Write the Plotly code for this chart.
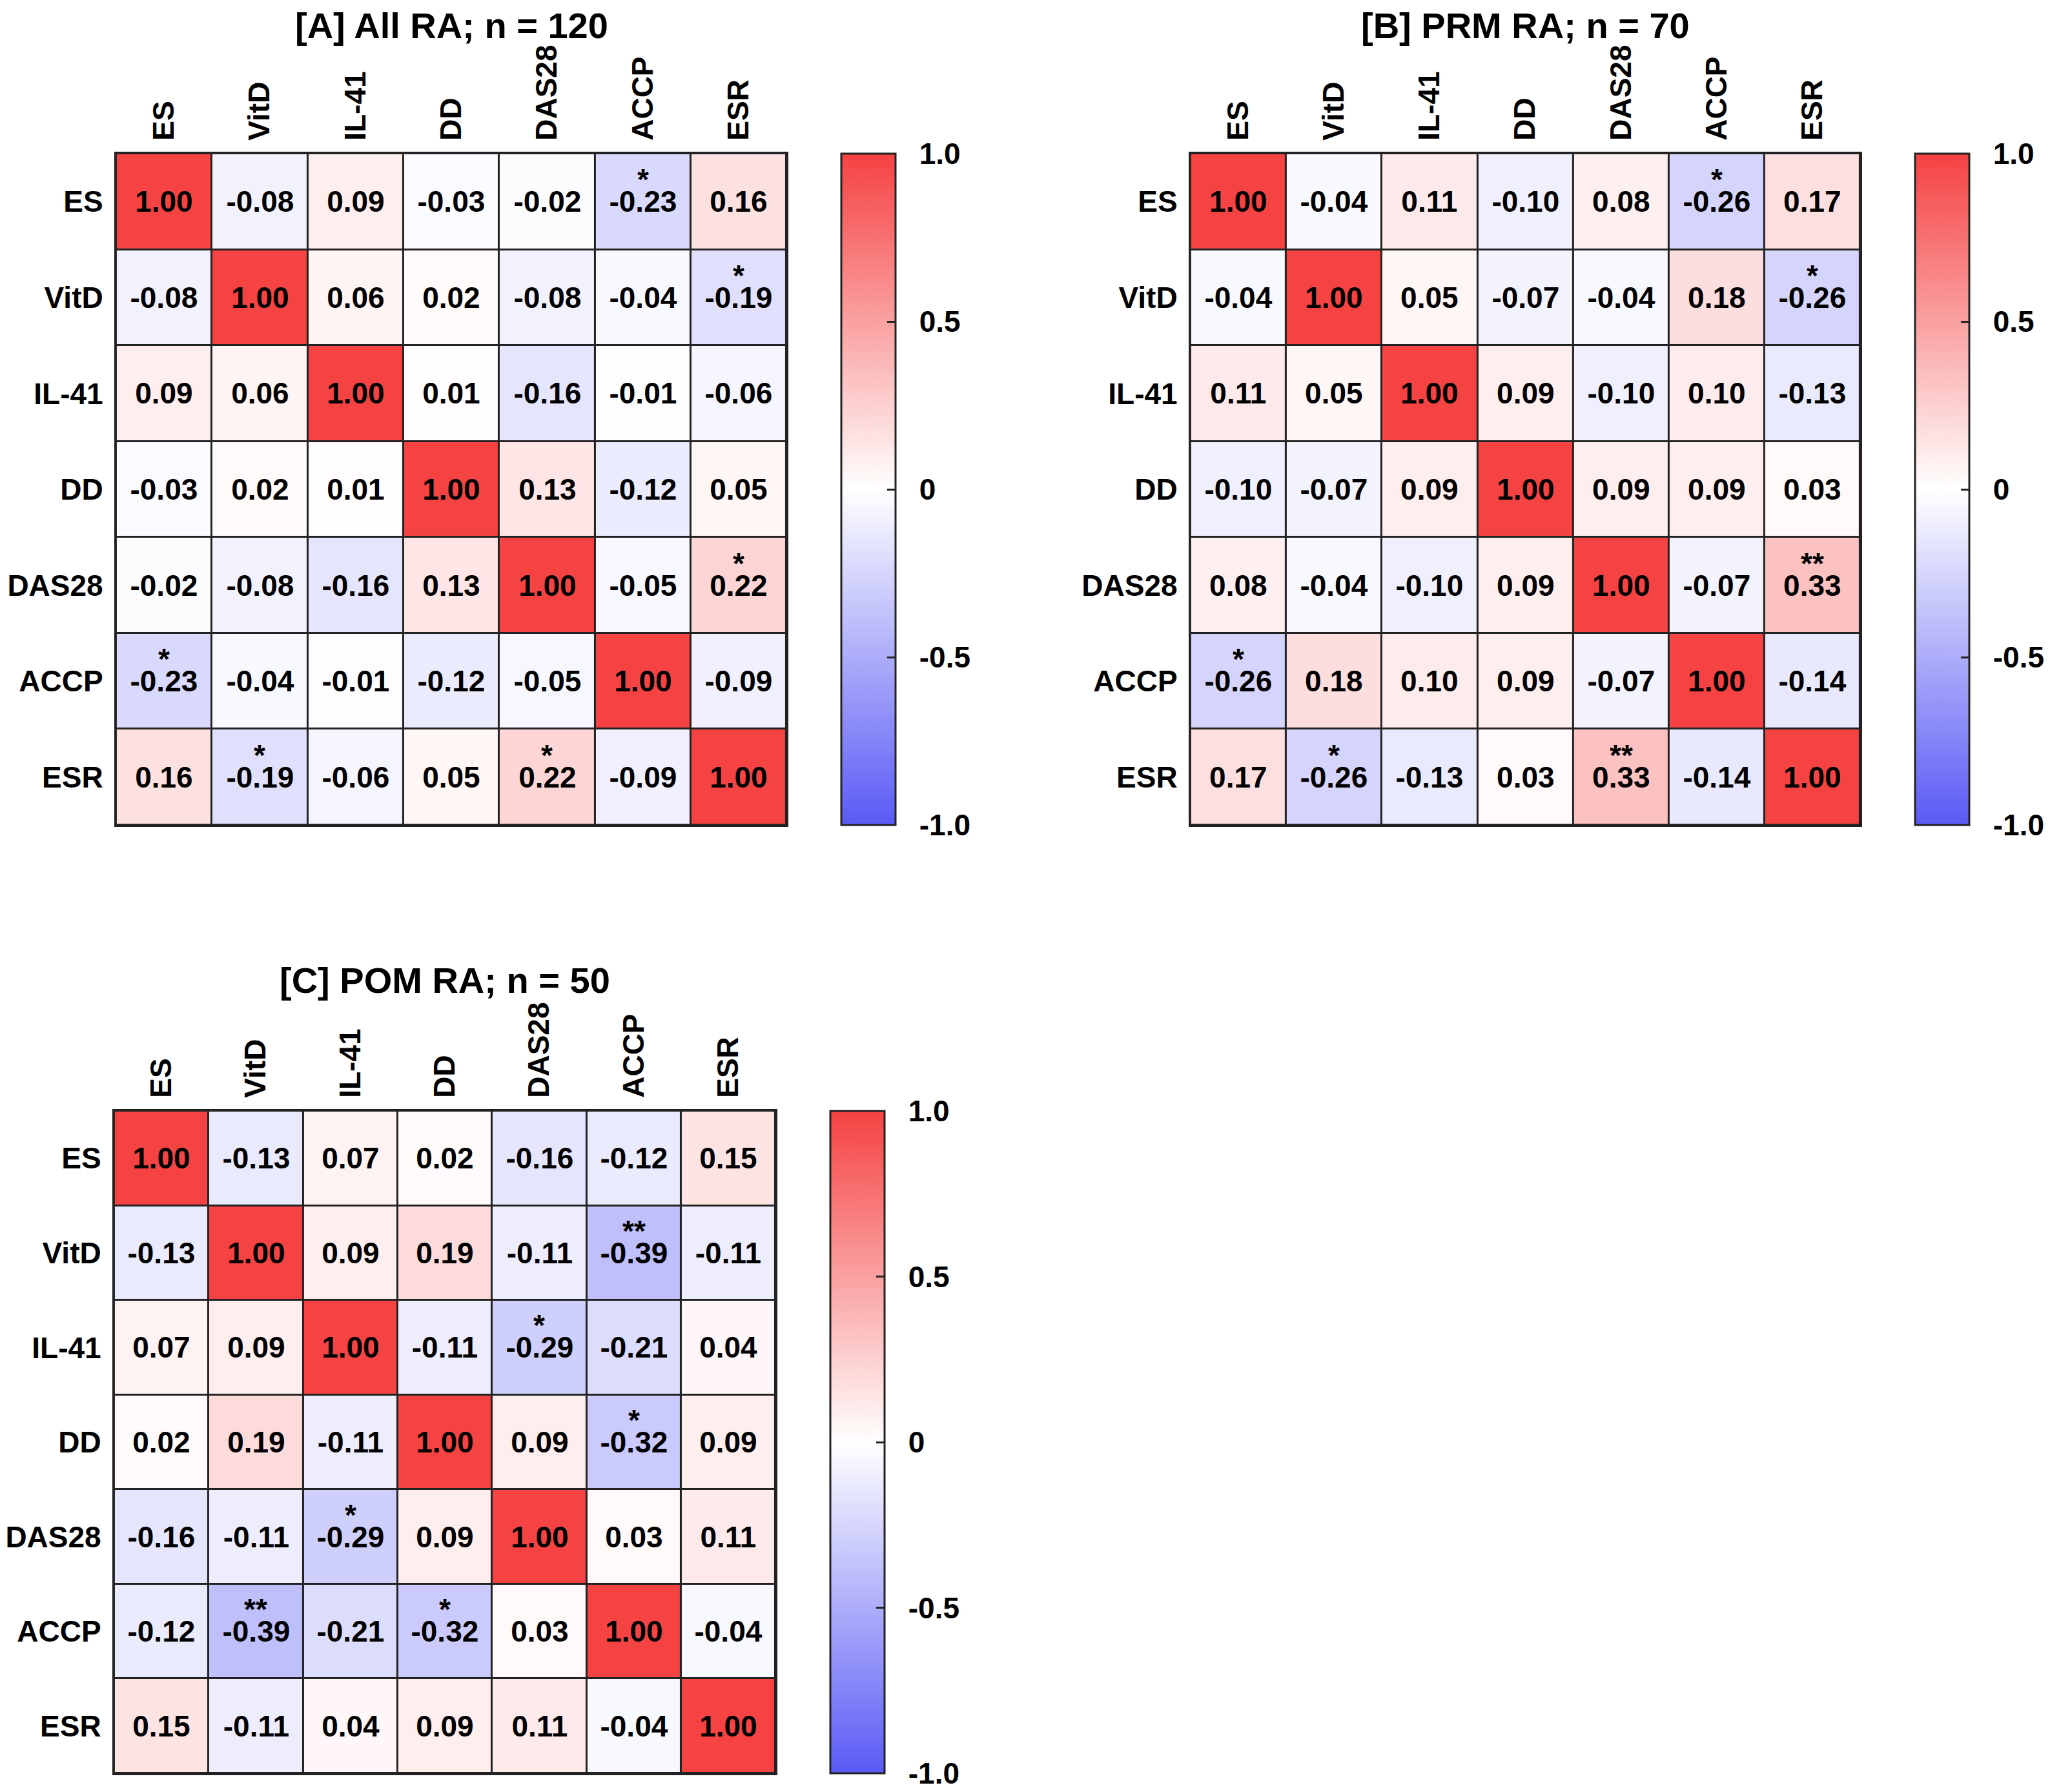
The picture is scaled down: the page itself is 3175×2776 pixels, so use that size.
import plotly.graph_objects as go

labels = ["ES", "VitD", "IL-41", "DD", "DAS28", "ACCP", "ESR"]

# [A] All RA; n = 120
corr_a = [
    [1.00, -0.08, 0.09, -0.03, -0.02, -0.23, 0.16],
    [-0.08, 1.00, 0.06, 0.02, -0.08, -0.04, -0.19],
    [0.09, 0.06, 1.00, 0.01, -0.16, -0.01, -0.06],
    [-0.03, 0.02, 0.01, 1.00, 0.13, -0.12, 0.05],
    [-0.02, -0.08, -0.16, 0.13, 1.00, -0.05, 0.22],
    [-0.23, -0.04, -0.01, -0.12, -0.05, 1.00, -0.09],
    [0.16, -0.19, -0.06, 0.05, 0.22, -0.09, 1.00],
]
sig_a = [("ES", "ACCP", "*"), ("VitD", "ESR", "*"), ("DAS28", "ESR", "*")]

# [B] PRM RA; n = 70
corr_b = [
    [1.00, -0.04, 0.11, -0.10, 0.08, -0.26, 0.17],
    [-0.04, 1.00, 0.05, -0.07, -0.04, 0.18, -0.26],
    [0.11, 0.05, 1.00, 0.09, -0.10, 0.10, -0.13],
    [-0.10, -0.07, 0.09, 1.00, 0.09, 0.09, 0.03],
    [0.08, -0.04, -0.10, 0.09, 1.00, -0.07, 0.33],
    [-0.26, 0.18, 0.10, 0.09, -0.07, 1.00, -0.14],
    [0.17, -0.26, -0.13, 0.03, 0.33, -0.14, 1.00],
]
sig_b = [("ES", "ACCP", "*"), ("VitD", "ESR", "*"), ("DAS28", "ESR", "**")]

# [C] POM RA; n = 50
corr_c = [
    [1.00, -0.13, 0.07, 0.02, -0.16, -0.12, 0.15],
    [-0.13, 1.00, 0.09, 0.19, -0.11, -0.39, -0.11],
    [0.07, 0.09, 1.00, -0.11, -0.29, -0.21, 0.04],
    [0.02, 0.19, -0.11, 1.00, 0.09, -0.32, 0.09],
    [-0.16, -0.11, -0.29, 0.09, 1.00, 0.03, 0.11],
    [-0.12, -0.39, -0.21, -0.32, 0.03, 1.00, -0.04],
    [0.15, -0.11, 0.04, 0.09, 0.11, -0.04, 1.00],
]
sig_c = [("VitD", "ACCP", "**"), ("IL-41", "DAS28", "*"), ("DD", "ACCP", "*")]

titles = ["[A] All RA; n = 120", "[B] PRM RA; n = 70", "[C] POM RA; n = 50"]
cbar_vals = [-1, -0.5, 0, 0.5, 1]
cbar_text = ["-1.0", "-0.5", "0", "0.5", "1.0"]

W, H = 3175, 2776
OFF = 8  # page body margin, subtracted from the pixel positions below
FONT = "Liberation Sans, Arial, sans-serif"
scale = [[0, "#5a5af5"], [0.5, "#ffffff"], [1, "#f54242"]]

# pixel boxes of each grid: (left, right, top, bottom), colourbar left edge, title centre
panels = [
    (corr_a, sig_a, (178, 1217, 238, 1278), 1302, 40),
    (corr_b, sig_b, (1843, 2881, 238, 1278), 2966, 40),
    (corr_c, sig_c, (175, 1200, 1721, 2747), 1285, 1518),
]

fig = go.Figure()
annotations = []
layout = {}
for i, (corr, sig, box, cb_left, title_y) in enumerate(panels):
    n = "" if i == 0 else str(i + 1)
    l, r, t, b = [v - OFF for v in box]
    cb_left -= OFF
    title_y -= OFF
    xdom = [l / W, r / W]
    ydom = [1 - b / H, 1 - t / H]
    text = [["%.2f" % v for v in row] for row in corr]
    fig.add_trace(go.Heatmap(
        z=corr, x=labels, y=labels, text=text, texttemplate="%{text}",
        textfont=dict(family=FONT, size=46, color="black", weight="bold"),
        colorscale=scale, zmin=-1, zmax=1, xgap=3, ygap=3,
        xaxis="x" + n, yaxis="y" + n, hoverinfo="skip",
        colorbar=dict(
            x=cb_left / W, xanchor="left", xpad=0,
            y=(ydom[0] + ydom[1]) / 2, yanchor="middle", ypad=0,
            len=ydom[1] - ydom[0], lenmode="fraction",
            thickness=84, thicknessmode="pixels",
            outlinewidth=3, outlinecolor="#222",
            tickmode="array", tickvals=cbar_vals,
            ticktext=["\u00a0\u00a0" + s for s in cbar_text],
            ticks="inside", ticklen=14, tickwidth=3, tickcolor="#222",
            tickfont=dict(family=FONT, size=46, color="black", weight="bold"),
        ),
    ))
    layout["xaxis" + n] = dict(
        domain=xdom, anchor="y" + n, side="top", tickangle=-90,
        showline=True, mirror=True, linecolor="#222", linewidth=3,
        showgrid=False, zeroline=False, ticks="", ticklabelstandoff=8,
        tickfont=dict(family=FONT, size=46, color="black", weight="bold"),
    )
    layout["yaxis" + n] = dict(
        domain=ydom, anchor="x" + n, autorange="reversed",
        showline=True, mirror=True, linecolor="#222", linewidth=3,
        showgrid=False, zeroline=False, ticks="", ticklabelstandoff=8,
        tickfont=dict(family=FONT, size=46, color="black", weight="bold"),
    )
    for row, col, mark in sig:
        for a, c in [(row, col), (col, row)]:
            annotations.append(dict(
                x=c, y=a, xref="x" + n, yref="y" + n, text=mark,
                showarrow=False, yshift=34,
                font=dict(family=FONT, size=46, color="black", weight="bold"),
            ))
    annotations.append(dict(
        x=(l + r) / 2 / W, y=1 - title_y / H, xref="paper", yref="paper",
        text=titles[i], showarrow=False, xanchor="center", yanchor="middle",
        font=dict(family=FONT, size=56, color="black", weight="bold"),
    ))

fig.update_layout(
    width=W, height=H, margin=dict(l=0, r=0, t=0, b=0),
    paper_bgcolor="white", plot_bgcolor="#222",
    showlegend=False, annotations=annotations, **layout,
)
fig.write_html("out.html")
